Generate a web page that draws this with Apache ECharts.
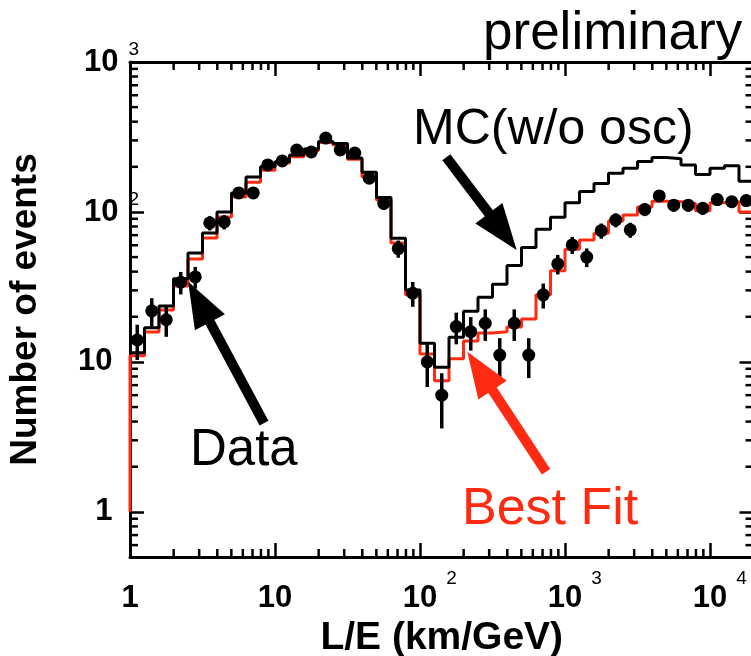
<!DOCTYPE html>
<html>
<head>
<meta charset="utf-8">
<script src="https://cdn.jsdelivr.net/npm/echarts@6/dist/echarts.min.js"></script>
<style>
  html, body { margin: 0; padding: 0; background: #ffffff; }
  #chart { width: 751px; height: 656px; }
</style>
</head>
<body>
<div id="chart"></div>
<script>
// L/E histogram bins: log10 of the bin edges (0.1 decade wide)
const binEdgeExp = [0.0, 0.1, 0.2, 0.3, 0.4, 0.5, 0.6, 0.7, 0.8, 0.9,
  1.0, 1.1, 1.2, 1.3, 1.4, 1.5, 1.6, 1.7, 1.8, 1.9,
  2.0, 2.1, 2.2, 2.3, 2.4, 2.5, 2.6, 2.7, 2.8, 2.9,
  3.0, 3.1, 3.2, 3.3, 3.4, 3.5, 3.6, 3.7, 3.8, 3.9,
  4.0, 4.1, 4.2, 4.3];

// MC expectation without oscillation (events per bin)
const mcNoOsc = [11.5, 16.9, 23.6, 35.8, 53.3, 72.4, 100, 134, 171, 200,
  216, 240, 263, 295, 286, 229, 184, 125, 66.8, 30.2,
  13.3, 9.2, 14.6, 21.8, 27, 33, 44, 58, 76.6, 92.1,
  115, 137, 155, 181, 196, 217, 231, 226, 206, 178,
  196, 203, 160];

// Best-fit oscillation expectation
const bestFit = [11.0, 15.8, 22.2, 32.1, 48.6, 67.1, 92.6, 126, 158, 190,
  212, 233, 257, 290, 280, 225, 172, 120, 62, 28,
  11.3, 7.5, 10.5, 13.8, 15.6, 15.9, 17.1, 19.3, 28, 40.6,
  56.4, 65, 72, 87, 95.5, 108, 118, 117, 114, 102,
  115, 117, 100];

// Observed events and their statistical errors
const dataEvents = [14.0, 21.9, 19.1, 34.0, 36.9, 84.5, 85.8, 134, 134, 206,
  219, 259, 251, 311, 259, 247, 168, 114, 57, 28.7,
  10.0, 6.0, 17.2, 15.9, 18.1, 11.1, 18.1, 11.1, 28, 45,
  60.3, 50, 75, 88.4, 76, 104, 128, 111, 111, 106,
  121, 117, 119];
const dataErr = [3.7, 4.7, 4.4, 5.8, 6.1, 9.2, 9.3, 11.6, 11.6, 14.4,
  14.8, 16.1, 15.8, 17.6, 16.1, 15.7, 13.0, 10.7, 7.5, 5.4,
  3.2, 2.4, 4.1, 4.0, 4.3, 3.3, 4.3, 3.3, 5.3, 6.7,
  7.8, 7.1, 8.7, 9.4, 8.7, 10.2, 11.3, 10.5, 10.5, 10.3,
  11.0, 10.8, 10.9];

// Axis ranges
const xRange = [1, Math.pow(10, 4.3)];
const yRange = [0.5, 1000];
const minorMultipliers = [2, 3, 4, 5, 6, 7, 8, 9];

const edges = binEdgeExp.map(e => Math.pow(10, e));
const centers = binEdgeExp.slice(0, -1).map((e, i) => Math.pow(10, (e + binEdgeExp[i + 1]) / 2));

function stepPoints(vals, fromOne) {
  const pts = fromOne ? [[edges[0], 1]] : [];
  vals.forEach((v, i) => pts.push([edges[i], v]));
  pts.push([edges[vals.length], vals[vals.length - 1]]);
  return pts;
}

function minorTicks(lo, hi) {
  const out = [];
  for (let k = Math.floor(Math.log10(lo)) - 1; k <= Math.ceil(Math.log10(hi)); k++) {
    minorMultipliers.forEach(m => {
      const v = m * Math.pow(10, k);
      if (v > lo * 1.0001 && v < hi * 0.9999) out.push(v);
    });
  }
  return out;
}

function powerOf(v) {
  const e = Math.log10(v);
  const r = Math.round(e);
  return Math.abs(e - r) < 1e-6 ? r : null;
}

const FONT = '"Liberation Sans", Arial, Helvetica, sans-serif';
const RED = '#ff2a12';

const xLabelRich = {
  b: { fontFamily: FONT, fontWeight: 'bold', fontSize: 31, lineHeight: 31, color: '#000', padding: [14, 0, 0, 0] },
  s: { fontFamily: FONT, fontSize: 19, lineHeight: 19, color: '#000', padding: [0, 0, 26, 9] },
  h: { fontFamily: FONT, fontSize: 19, lineHeight: 19, color: 'rgba(0,0,0,0)', padding: [0, 9, 26, 0] }
};
const yLabelRich = {
  b: { fontFamily: FONT, fontWeight: 'bold', fontSize: 31, lineHeight: 31, color: '#000', padding: [12, 0, 12, 0] },
  s: { fontFamily: FONT, fontSize: 19, lineHeight: 19, color: '#000', padding: [0, 0, 24, 10] },
  t: { fontFamily: FONT, fontSize: 19, lineHeight: 19, color: 'rgba(0,0,0,0)', padding: [0, 6, 24, 10] }
};

function xLabel(v) {
  const e = powerOf(v);
  if (e === null || e < 0) return '';
  if (e === 0) return '{b|1}';
  if (e === 1) return '{b|10}';
  return '{h|' + e + '}{b|10}{s|' + e + '}';
}
function yLabel(v) {
  const e = powerOf(v);
  if (e === null || e < 0) return '';
  if (e === 0) return '{b|1}{t|0}';
  if (e === 1) return '{b|10}{t|0}';
  return '{b|10}{s|' + e + '}';
}

const axisLine = { show: true, lineStyle: { color: '#000', width: 3 } };
const majorTick = { show: true, inside: true, length: 14, lineStyle: { color: '#000', width: 2.5 } };

const chart = echarts.init(document.getElementById('chart'), null, { renderer: 'canvas' });

const option = {
  animation: false,
  backgroundColor: '#ffffff',
  grid: { left: 130, top: 62, right: -2.5, bottom: 99, containLabel: false, outerBoundsMode: 'none' },
  xAxis: [
    {
      type: 'log', logBase: 10, min: xRange[0], max: xRange[1], position: 'bottom',
      axisLine, axisTick: majorTick, splitLine: { show: false },
      axisLabel: { show: true, margin: 19, formatter: xLabel, rich: xLabelRich, showMaxLabel: false },
      name: 'L/E (km/GeV)', nameLocation: 'middle', nameGap: 57,
      nameTextStyle: { fontFamily: FONT, fontWeight: 'bold', fontSize: 39, color: '#000' }
    },
    {
      type: 'log', logBase: 10, min: xRange[0], max: xRange[1], position: 'top',
      axisLine, axisTick: majorTick, splitLine: { show: false }, axisLabel: { show: false }
    }
  ],
  yAxis: [
    {
      type: 'log', logBase: 10, min: yRange[0], max: yRange[1], position: 'left',
      axisLine, axisTick: majorTick, splitLine: { show: false },
      axisLabel: { show: true, margin: -9, formatter: yLabel, rich: yLabelRich, showMinLabel: false },
      name: 'Number of events', nameLocation: 'middle', nameGap: 86, nameRotate: 90,
      nameTextStyle: { fontFamily: FONT, fontWeight: 'bold', fontSize: 37, color: '#000' }
    },
    {
      type: 'log', logBase: 10, min: yRange[0], max: yRange[1], position: 'right',
      axisLine, axisTick: majorTick, splitLine: { show: false }, axisLabel: { show: false }
    }
  ],
  series: [
    {
      name: 'minor x ticks', type: 'custom', coordinateSystem: 'cartesian2d', silent: true, z: 4,
      data: minorTicks(xRange[0], xRange[1]).map(v => [v, yRange[0]]),
      encode: { x: 0, y: 1 },
      renderItem(params, api) {
        const cs = params.coordSys;
        const x = api.coord([api.value(0), yRange[0]])[0];
        const st = { stroke: '#000', lineWidth: 2.5 };
        return { type: 'group', children: [
          { type: 'line', shape: { x1: x, y1: cs.y + cs.height, x2: x, y2: cs.y + cs.height - 8 }, style: st },
          { type: 'line', shape: { x1: x, y1: cs.y, x2: x, y2: cs.y + 8 }, style: st }
        ] };
      }
    },
    {
      name: 'minor y ticks', type: 'custom', coordinateSystem: 'cartesian2d', silent: true, z: 4,
      data: minorTicks(yRange[0], yRange[1]).map(v => [xRange[0], v]),
      encode: { x: 0, y: 1 },
      renderItem(params, api) {
        const cs = params.coordSys;
        const y = api.coord([xRange[0], api.value(1)])[1];
        const st = { stroke: '#000', lineWidth: 2.5 };
        return { type: 'group', children: [
          { type: 'line', shape: { x1: cs.x, y1: y, x2: cs.x + 8, y2: y }, style: st },
          { type: 'line', shape: { x1: cs.x + cs.width, y1: y, x2: cs.x + cs.width - 8, y2: y }, style: st }
        ] };
      }
    },
    {
      name: 'Best Fit', type: 'line', step: 'end', showSymbol: false, symbol: 'none', z: 5,
      data: stepPoints(bestFit, true),
      lineStyle: { color: RED, width: 3 }
    },
    {
      name: 'MC (w/o osc)', type: 'line', step: 'end', showSymbol: false, symbol: 'none', z: 6,
      data: stepPoints(mcNoOsc, false),
      lineStyle: { color: '#000', width: 3 }
    },
    {
      name: 'Data errors', type: 'custom', coordinateSystem: 'cartesian2d', z: 7,
      data: centers.map((c, i) => [c, dataEvents[i] - dataErr[i], dataEvents[i] + dataErr[i]]),
      encode: { x: 0, y: [1, 2] },
      renderItem(params, api) {
        const p1 = api.coord([api.value(0), api.value(1)]);
        const p2 = api.coord([api.value(0), api.value(2)]);
        return { type: 'line', shape: { x1: p1[0], y1: p1[1], x2: p2[0], y2: p2[1] },
          style: { stroke: '#000', lineWidth: 3.5 } };
      }
    },
    {
      name: 'Data', type: 'scatter', z: 8,
      data: centers.map((c, i) => [c, dataEvents[i]]),
      symbol: 'circle', symbolSize: 13,
      itemStyle: { color: '#000', opacity: 1 }
    }
  ]
};
chart.setOption(option);

// Annotation arrows, anchored in data coordinates: [tail, tip]
const arrows = [
  { from: [8.4, 3.9], to: [2.52, 34.3], color: '#000' },
  { from: [152, 232], to: [464, 55.8], color: '#000' },
  { from: [740, 1.85], to: [212, 11.7], color: RED }
];

function arrowShapes(a) {
  const p0 = chart.convertToPixel({ gridIndex: 0 }, a.from);
  const p1 = chart.convertToPixel({ gridIndex: 0 }, a.to);
  const dx = p1[0] - p0[0], dy = p1[1] - p0[1];
  const len = Math.hypot(dx, dy);
  const ux = dx / len, uy = dy / len;
  const headLen = 46, headHalf = 17;
  const bx = p1[0] - ux * headLen, by = p1[1] - uy * headLen;
  return [
    { type: 'line', z: 20, shape: { x1: p0[0], y1: p0[1], x2: bx + ux * 2, y2: by + uy * 2 },
      style: { stroke: a.color, lineWidth: 10 } },
    { type: 'polygon', z: 20, shape: { points: [
        [p1[0], p1[1]],
        [bx - uy * headHalf, by + ux * headHalf],
        [bx + uy * headHalf, by - ux * headHalf]
      ] }, style: { fill: a.color } }
  ];
}

const graphics = [];
arrows.forEach(a => arrowShapes(a).forEach(g => graphics.push(g)));
graphics.push(
  { type: 'text', z: 20, style: { text: 'preliminary', x: 483, y: 34, font: 'normal 53px ' + FONT, fill: '#000', verticalAlign: 'middle' } },
  { type: 'text', z: 20, style: { text: 'MC(w/o osc)', x: 413, y: 130, font: 'normal 50px ' + FONT, fill: '#000', verticalAlign: 'middle' } },
  { type: 'text', z: 20, style: { text: 'Data', x: 190, y: 451, font: 'normal 51px ' + FONT, fill: '#000', verticalAlign: 'middle' } },
  { type: 'text', z: 20, style: { text: 'Best Fit', x: 462, y: 510, font: 'normal 52px ' + FONT, fill: RED, verticalAlign: 'middle' } }
);
chart.setOption({ graphic: graphics });
</script>
</body>
</html>
